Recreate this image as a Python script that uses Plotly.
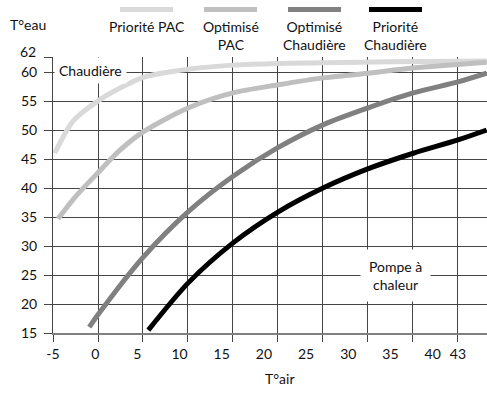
"""Courbes de température d'eau selon la température d'air (PAC / chaudière)"""

import plotly.graph_objects as go

# Températures
x_ticks = [-5, 0, 5, 10, 15, 20, 25, 30, 35, 40, 43]
x_labels = ["-5", "0", "5", "10", "15", "20", "25", "30", "35", "40", "43"]
y_ticks = [15, 20, 25, 30, 35, 40, 45, 50, 55, 60, 62.6]
y_labels = ["15", "20", "25", "30", "35", "40", "45", "50", "55", "60", ""]
y_top_label = "62"

prio_pac_x = [-4.8, -2.6, 0.3, 2.9, 5.7, 11, 16.3, 21.7, 27, 35, 46.4]
prio_pac_y = [46, 51.6, 55, 57.2, 59.1, 60.5, 61.2, 61.5, 61.6, 61.8, 61.9]

opt_pac_x = [-4.4, -2.4, 0.3, 2.9, 5.7, 11, 16.3, 21.7, 27, 32.3, 37.7, 46.4]
opt_pac_y = [34.7, 38.4, 42.6, 46.5, 49.7, 53.8, 56.4, 57.8, 59, 59.8, 60.7, 61.7]

opt_ch_x = [-0.7, 0.3, 5.7, 11, 16.3, 21.7, 27, 32.3, 37.7, 43, 46.4]
opt_ch_y = [16, 18.1, 28.1, 35.9, 42, 47, 50.9, 53.8, 56.4, 58.3, 59.8]

prio_ch_x = [6.3, 11, 16.3, 21.7, 27, 32.3, 37.7, 43, 46.4]
prio_ch_y = [15.5, 23.6, 30.5, 35.9, 40, 43.3, 46, 48.3, 50]

series = [
    ("Priorité PAC", prio_pac_x, prio_pac_y, "#d9d9d9"),
    ("Optimisé<br>PAC", opt_pac_x, opt_pac_y, "#bfbfbf"),
    ("Optimisé<br>Chaudière", opt_ch_x, opt_ch_y, "#808080"),
    ("Priorité<br>Chaudière", prio_ch_x, prio_ch_y, "#000000"),
]

FONT = "Lato"
FSIZE = 14
TXT = "#111"
GRID = "#454545"
X_RANGE = [-5, 46.44]
# lignes verticales : 10 lignes régulières de -5 à 43
grid_x = [-5 + k * 48 / 9 for k in range(10)]

W, H = 487, 394
L, R, T, B = 53, 0, 57, 61


def px(x):
    return (x - L) / (W - L - R)


def py(y):
    return (H - B - y) / (H - T - B)


def txt(text, x, y, **kw):
    d = dict(text=text, xref="paper", yref="paper", x=px(x), y=py(y),
             xanchor="center", yanchor="middle", showarrow=False,
             font=dict(family=FONT, size=FSIZE, color=TXT))
    d.update(kw)
    return d


fig = go.Figure()
for name, xs, ys, color in series:
    fig.add_trace(go.Scatter(
        x=xs, y=ys, mode="lines", name=name,
        line=dict(color=color, width=5, shape="spline", smoothing=0.8),
        showlegend=False,
    ))

# légende dessinée au-dessus du graphique
legend_pos = [(120, 173), (204, 257), (288, 341), (369, 422)]
shapes = []
annotations = []
for (name, _, _, color), (a, b) in zip(series, legend_pos):
    shapes.append(dict(type="line", xref="paper", yref="paper",
                       x0=px(a), x1=px(b), y0=py(9.5), y1=py(9.5),
                       line=dict(color=color, width=5)))
    annotations.append(txt(name, (a + b) / 2, 16, yanchor="top"))

annotations += [
    txt("T°eau", 28, 25),
    txt(y_top_label, 38, 52, xanchor="right"),
    txt("T°air", 279, 378),
    dict(text="Chaudière", xref="x", yref="y", x=-0.6, y=60.3,
         showarrow=False, bgcolor="white", borderpad=4,
         font=dict(family=FONT, size=FSIZE, color=TXT)),
    dict(text="Pompe à<br>chaleur", xref="x", yref="y", x=35.6, y=25.0,
         showarrow=False, bgcolor="white", borderpad=8,
         font=dict(family=FONT, size=FSIZE, color=TXT)),
]

fig.update_layout(
    width=W, height=H,
    margin=dict(l=L, r=R, t=T, b=B),
    plot_bgcolor="white", paper_bgcolor="white",
    font=dict(family=FONT, size=FSIZE, color=TXT),
    xaxis=dict(range=X_RANGE, tickmode="array", tickvals=x_ticks,
               ticktext=x_labels, showgrid=False, ticks="",
               ticklabelstandoff=7,
               minor=dict(tickmode="array", tickvals=grid_x, showgrid=True,
                          gridcolor=GRID, gridwidth=1, ticks="outside",
                          ticklen=7, tickcolor=GRID),
               showline=True, linecolor="#808080", linewidth=2,
               zeroline=False,
               tickfont=dict(family=FONT, size=FSIZE, color=TXT)),
    yaxis=dict(range=[15, 62.6], tickmode="array", tickvals=y_ticks,
               ticktext=y_labels, showgrid=True, gridcolor=GRID,
               gridwidth=1, ticks="outside", ticklen=8, tickcolor=GRID,
               showline=True, linecolor=GRID, linewidth=1,
               zeroline=False, ticklabelstandoff=4,
               tickfont=dict(family=FONT, size=FSIZE, color=TXT)),
    shapes=shapes,
    annotations=annotations,
)

fig.write_html("out.html", config={"displayModeBar": False},
               post_script="document.body.style.margin = '0';")
